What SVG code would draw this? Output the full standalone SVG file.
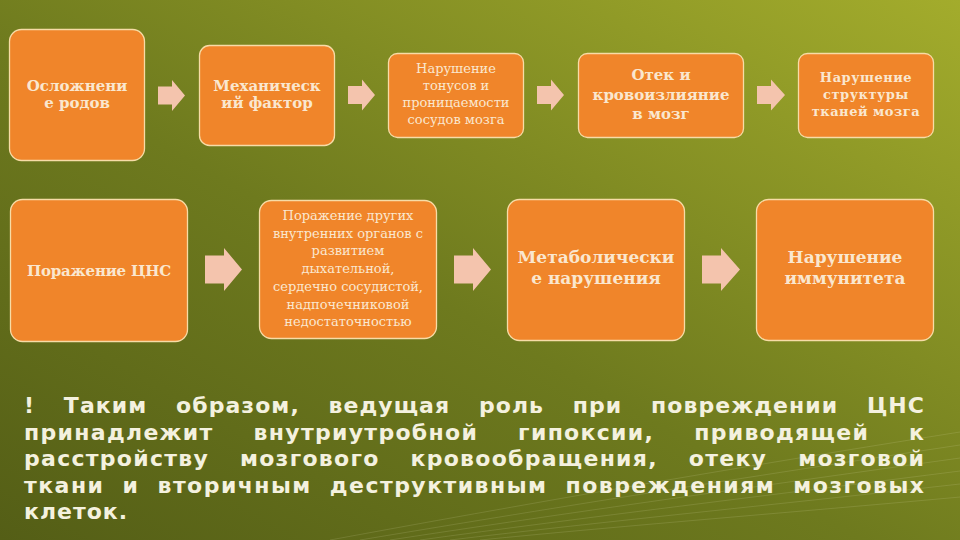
<svg xmlns="http://www.w3.org/2000/svg" width="960" height="540" viewBox="0 0 960 540">
<defs>
<linearGradient id="bg" x1="0" y1="1" x2="1" y2="0">
<stop offset="0" stop-color="#545e16"/>
<stop offset="0.45" stop-color="#6e7a1e"/>
<stop offset="1" stop-color="#a3ac2c"/>
</linearGradient>
<style>
.box{fill:#f0852a;stroke:#f7dca6;stroke-width:1.3}
.arr{fill:#f4c4ad}
.tb{font-family:"DejaVu Serif","Liberation Serif",serif;font-weight:bold;fill:#fae7cf;text-anchor:middle}
.tr{font-family:"DejaVu Serif","Liberation Serif",serif;fill:#fae7cf;text-anchor:middle}
.para{font-family:"DejaVu Sans","Liberation Sans",sans-serif;font-weight:bold;font-size:22px;fill:#f4f1df;letter-spacing:1px}
.sw{fill:none;stroke:#e8ecc0;stroke-opacity:0.14;stroke-width:1}
</style>
</defs>
<rect x="0" y="0" width="960" height="540" fill="url(#bg)"/>
<g id="swoosh">
<path class="sw" d="M330 540 C520 505 720 470 960 432"/>
<path class="sw" d="M360 540 C540 510 740 478 960 445"/>
<path class="sw" d="M390 540 C560 514 760 486 960 458"/>
<path class="sw" d="M420 540 C580 518 780 494 960 471"/>
<path class="sw" d="M450 540 C600 522 800 502 960 484"/>
<path class="sw" d="M480 540 C620 526 820 510 960 497"/>
</g>

<g id="n1"><rect class="box" x="9.5" y="29.5" width="135" height="131" rx="12"/>
<text class="tb" font-size="15" x="77" y="91">Осложнени</text>
<text class="tb" font-size="15" x="77" y="108">е родов</text></g>

<g id="n2"><rect class="box" x="199.5" y="45.5" width="135" height="100" rx="10"/>
<text class="tb" font-size="15" x="267" y="91">Механическ</text>
<text class="tb" font-size="15" x="267" y="108">ий фактор</text></g>

<g id="n3"><rect class="box" x="388.5" y="53.5" width="135" height="84" rx="9"/>
<text class="tr" font-size="13" x="456" y="73">Нарушение</text>
<text class="tr" font-size="13" x="456" y="90">тонусов и</text>
<text class="tr" font-size="13" x="456" y="107">проницаемости</text>
<text class="tr" font-size="13" x="456" y="124">сосудов мозга</text></g>

<g id="n4"><rect class="box" x="578.5" y="53.5" width="165" height="84" rx="9"/>
<text class="tb" font-size="15" x="661" y="80">Отек и</text>
<text class="tb" font-size="15" x="661" y="100">кровоизлияние</text>
<text class="tb" font-size="15" x="661" y="119">в мозг</text></g>

<g id="n5"><rect class="box" x="798.5" y="53.5" width="135" height="84" rx="9"/>
<text class="tb" font-size="13" letter-spacing="0.5" x="866" y="82">Нарушение</text>
<text class="tb" font-size="13" letter-spacing="0.5" x="866" y="99">структуры</text>
<text class="tb" font-size="13" letter-spacing="0.5" x="866" y="116">тканей мозга</text></g>

<g id="n6"><rect class="box" x="10.5" y="199.5" width="177" height="142" rx="12"/>
<text class="tb" font-size="15" letter-spacing="-0.2" x="99" y="276">Поражение ЦНС</text></g>

<g id="n7"><rect class="box" x="259.5" y="200.5" width="177" height="138" rx="12"/>
<text class="tr" font-size="13" x="348" y="220">Поражение других</text>
<text class="tr" font-size="13" x="348" y="237.7">внутренних органов с</text>
<text class="tr" font-size="13" x="348" y="255.4">развитием</text>
<text class="tr" font-size="13" x="348" y="273.1">дыхательной,</text>
<text class="tr" font-size="13" x="348" y="290.8">сердечно сосудистой,</text>
<text class="tr" font-size="13" x="348" y="308.5">надпочечниковой</text>
<text class="tr" font-size="13" x="348" y="326.2">недостаточностью</text></g>

<g id="n8"><rect class="box" x="507.5" y="199.5" width="177" height="141" rx="12"/>
<text class="tb" font-size="17" x="596" y="263">Метаболически</text>
<text class="tb" font-size="17" x="596" y="284">е нарушения</text></g>

<g id="n9"><rect class="box" x="756.5" y="199.5" width="177" height="141" rx="12"/>
<text class="tb" font-size="17" x="845" y="263">Нарушение</text>
<text class="tb" font-size="17" x="845" y="284">иммунитета</text></g>

<g id="connectors">
<polygon class="arr" points="158,86.5 172,86.5 172,80 185,95.5 172,111 172,104.5 158,104.5"/>
<polygon class="arr" points="348,86 362,86 362,79.5 375,95 362,110.5 362,104 348,104"/>
<polygon class="arr" points="537,86 551,86 551,79.5 564,95 551,110.5 551,104 537,104"/>
<polygon class="arr" points="757,86 771,86 771,79.5 785,95 771,110.5 771,104 757,104"/>
<polygon class="arr" points="205,255.5 224,255.5 224,248 242,269.5 224,291 224,283.5 205,283.5"/>
<polygon class="arr" points="454,255.5 473,255.5 473,248 491,269.5 473,291 473,283.5 454,283.5"/>
<polygon class="arr" points="702,255.5 721,255.5 721,248 740,269.5 721,291 721,283.5 702,283.5"/>
</g>

<g id="summary">
<text class="para" x="24" y="413" textLength="901" lengthAdjust="spacing" word-spacing="20">! Таким образом, ведущая роль при повреждении ЦНС</text>
<text class="para" x="24" y="439.5" textLength="901" lengthAdjust="spacing" word-spacing="31">принадлежит внутриутробной гипоксии, приводящей к</text>
<text class="para" x="24" y="466" textLength="901" lengthAdjust="spacing" word-spacing="22">расстройству мозгового кровообращения, отеку мозговой</text>
<text class="para" x="24" y="492.5" textLength="901" lengthAdjust="spacing" word-spacing="9">ткани и вторичным деструктивным повреждениям мозговых</text>
<text class="para" x="24" y="519">клеток.</text>
</g>
</svg>
